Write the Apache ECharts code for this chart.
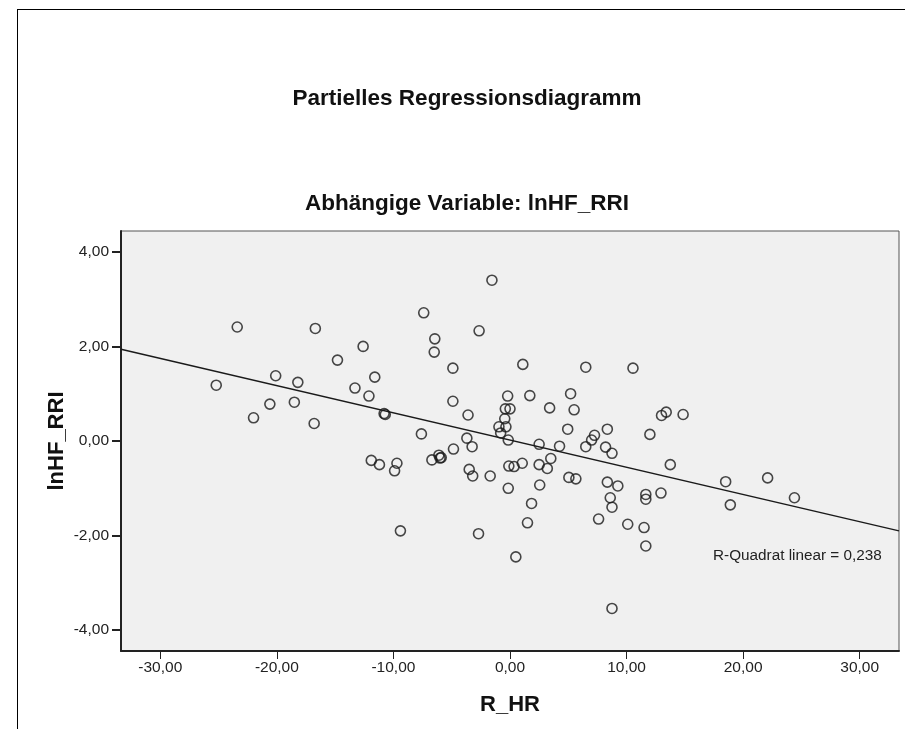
<!DOCTYPE html>
<html>
<head>
<meta charset="utf-8">
<script src="https://cdn.jsdelivr.net/npm/echarts@6/dist/echarts.min.js"></script>
<style>
  html, body { margin: 0; padding: 0; background: #ffffff; }
  #chart { width: 905px; height: 729px; }
</style>
</head>
<body>
<div id="chart"></div>
<script>
// Partial residuals: R_HR (x) against lnHF_RRI (y)
const rHr = [
  -25.2, -23.4, -22.0, -20.6, -20.1, -18.5, -18.2, -16.7, -16.8, -14.8,
  -13.3, -12.6, -12.1, -11.6, -10.8, -10.7, -11.9, -11.2, -9.7, -9.9,
  -9.4, -7.6, -7.4, -6.7, -6.45, -6.5, -6.1, -5.9, -6.0, -4.9,
  -4.9, -4.85, -3.6, -3.7, -3.25, -3.5, -3.2, -2.65, -2.7, -1.7,
  -1.55, -0.95, -0.8, -0.35, -0.45, -0.4, 0.0, -0.2, -0.15, -0.1,
  0.35, -0.15, 0.5, 1.05, 1.1, 1.5, 1.7, 1.85, 2.5, 2.5,
  2.55, 3.2, 3.4, 3.5, 4.25, 4.95, 5.05, 5.2, 5.5, 5.65,
  6.5, 6.5, 7.0, 7.25, 7.6, 8.2, 8.35, 8.35, 8.6, 8.75,
  8.75, 8.75, 9.25, 10.1, 10.55, 11.5, 11.65, 11.65, 11.65, 12.0,
  13.0, 13.4, 13.75, 12.95, 14.85, 18.5, 18.9, 22.1, 24.4
];
const lnHfRri = [
  1.18, 2.41, 0.49, 0.78, 1.38, 0.82, 1.24, 2.38, 0.37, 1.71,
  1.12, 2.00, 0.95, 1.35, 0.58, 0.56, -0.41, -0.50, -0.47, -0.63,
  -1.90, 0.15, 2.71, -0.40, 2.16, 1.88, -0.30, -0.35, -0.36, 1.54,
  0.84, -0.17, 0.55, 0.06, -0.12, -0.60, -0.74, 2.33, -1.96, -0.74,
  3.40, 0.30, 0.17, 0.30, 0.47, 0.68, 0.68, 0.95, 0.02, -0.53,
  -0.54, -1.00, -2.45, -0.47, 1.62, -1.73, 0.96, -1.32, -0.07, -0.50,
  -0.93, -0.58, 0.70, -0.37, -0.11, 0.25, -0.77, 1.00, 0.66, -0.80,
  1.56, -0.12, 0.02, 0.12, -1.65, -0.13, 0.25, -0.87, -1.20, -0.26,
  -1.40, -3.54, -0.95, -1.76, 1.54, -1.83, -1.13, -1.23, -2.22, 0.14,
  0.54, 0.61, -0.50, -1.10, 0.56, -0.86, -1.35, -0.78, -1.20
];

// Linear fit line (end points at the axis limits)
const fitX = [-33.37, 33.37];
const fitY = [1.94, -1.90];

const xTicks = [-30, -20, -10, 0, 10, 20, 30];
const yTicks = [-4, -2, 0, 2, 4];

const mainTitle = 'Partielles Regressionsdiagramm';
const subTitle = 'Abhängige Variable: lnHF_RRI';
const xName = 'R_HR';
const yName = 'lnHF_RRI';
const fitLabel = 'R-Quadrat linear = 0,238';

const fontFamily = '"Liberation Sans", Arial, sans-serif';
const fmt = v => v.toFixed(2).replace('.', ',');

const points = rHr.map((x, i) => [x, lnHfRri[i]]);
const fitData = fitX.map((x, i) => [x, fitY[i]]);

const chart = echarts.init(document.getElementById('chart'), null, { renderer: 'canvas' });

chart.setOption({
  backgroundColor: '#ffffff',
  animation: false,
  textStyle: { fontFamily },
  title: [
    {
      text: mainTitle,
      left: 462, top: 82, textAlign: 'center',
      textStyle: { fontFamily, fontSize: 22.5, fontWeight: 'bold', color: '#111' }
    },
    {
      text: subTitle,
      left: 462, top: 187, textAlign: 'center',
      textStyle: { fontFamily, fontSize: 22.5, fontWeight: 'bold', color: '#111' }
    }
  ],
  grid: {
    left: 121, right: 6, top: 231, bottom: 78,
    show: true,
    backgroundColor: '#f0f0f0',
    borderColor: '#555',
    borderWidth: 1
  },
  xAxis: {
    type: 'value',
    min: -33.37, max: 33.37,
    name: xName,
    nameLocation: 'middle',
    nameGap: 43,
    nameMoveOverlap: false,
    nameTextStyle: { fontFamily, fontSize: 22, fontWeight: 'bold', color: '#111' },
    axisLine: { show: true, onZero: false, lineStyle: { color: '#222', width: 2 } },
    axisTick: { show: true, length: 8, customValues: xTicks, lineStyle: { color: '#222', width: 1 } },
    axisLabel: {
      customValues: xTicks, margin: 9,
      fontFamily, fontSize: 15.5, color: '#222',
      formatter: v => fmt(v)
    },
    splitLine: { show: false }
  },
  yAxis: {
    type: 'value',
    min: -4.44, max: 4.44,
    name: yName,
    nameLocation: 'middle',
    nameGap: 53,
    nameMoveOverlap: false,
    nameTextStyle: { fontFamily, fontSize: 22, fontWeight: 'bold', color: '#111' },
    axisLine: { show: true, onZero: false, lineStyle: { color: '#222', width: 2 } },
    axisTick: { show: true, length: 9, customValues: yTicks, lineStyle: { color: '#222', width: 2 } },
    axisLabel: {
      customValues: yTicks, margin: 12,
      fontFamily, fontSize: 15.5, color: '#222',
      formatter: v => fmt(v)
    },
    splitLine: { show: false }
  },
  series: [
    {
      type: 'line',
      data: fitData,
      symbol: 'none',
      lineStyle: { color: '#1a1a1a', width: 1.4 },
      silent: true,
      z: 2
    },
    {
      type: 'scatter',
      data: points,
      symbol: 'circle',
      symbolSize: 10,
      itemStyle: { color: 'rgba(0,0,0,0)', borderColor: '#1a1a1a', borderWidth: 1.6 },
      z: 3
    }
  ],
  graphic: [
    // outer frame (left and top edges)
    { type: 'line', shape: { x1: 17.5, y1: 9, x2: 17.5, y2: 729 }, style: { stroke: '#000', lineWidth: 1 } },
    { type: 'line', shape: { x1: 17, y1: 9.5, x2: 905, y2: 9.5 }, style: { stroke: '#000', lineWidth: 1 } },
    {
      type: 'text', x: 713, y: 556,
      style: {
        text: fitLabel, fontFamily, fontSize: 15.3, fill: '#222',
        textAlign: 'left', textVerticalAlign: 'middle'
      },
      z: 10
    }
  ]
});
</script>
</body>
</html>
